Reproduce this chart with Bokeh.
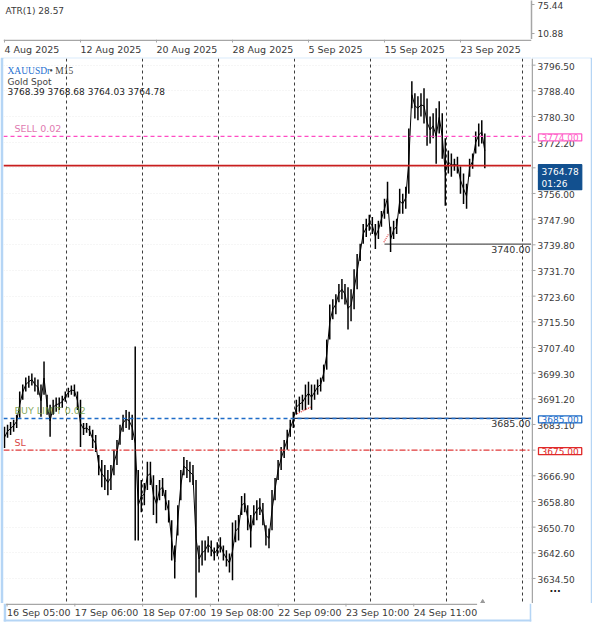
from bokeh.plotting import figure
from bokeh.models import (Range1d, LinearAxis, FixedTicker, PrintfTickFormatter, Label, Span,
                          Grid, ColumnDataSource)
from bokeh.layouts import column, row
from bokeh.embed import file_html
from bokeh.resources import INLINE
from bokeh.core.properties import value

# ---------------- data (hourly high / low) ----------------
high = [3682.4, 3683.0, 3683.9, 3684.6, 3686.2, 3693.5, 3695.7, 3697.9, 3698.5, 3699.2,
        3697.9, 3697.3, 3695.7, 3703.0, 3692.5, 3689.3, 3690.9, 3691.6, 3691.6, 3692.2,
        3693.5, 3694.7, 3695.4, 3695.7, 3693.5, 3690.9, 3683.6, 3683.6, 3682.7, 3681.4,
        3679.8, 3673.5, 3671.9, 3670.3, 3668.7, 3670.3, 3675.1, 3678.2, 3683.0, 3686.2,
        3687.7, 3687.1, 3686.2, 3707.7, 3668.7, 3665.6, 3664.6, 3671.3, 3671.3, 3667.1,
        3664.0, 3665.6, 3666.2, 3662.4, 3659.2, 3652.9, 3644.9, 3657.6, 3668.7, 3672.8,
        3671.9, 3671.3, 3670.3, 3665.6, 3644.9, 3646.5, 3646.5, 3647.8, 3646.5, 3644.3,
        3645.9, 3647.5, 3644.9, 3643.4, 3642.4, 3652.2, 3652.9, 3654.5, 3660.5, 3661.4,
        3657.6, 3654.5, 3657.6, 3659.2, 3659.8, 3658.3, 3651.3, 3650.3, 3662.4, 3666.2,
        3671.9, 3676.0, 3678.2, 3681.4, 3684.6, 3687.1, 3690.9, 3691.9, 3692.5, 3695.7,
        3696.6, 3695.7, 3695.7, 3697.3, 3697.9, 3702.0, 3709.9, 3721.0, 3722.6, 3724.2,
        3727.4, 3729.0, 3727.4, 3726.4, 3725.8, 3732.1, 3736.9, 3740.1, 3746.4, 3748.0,
        3749.3, 3748.6, 3746.4, 3747.4, 3750.5, 3754.3, 3759.7, 3745.5, 3747.4, 3748.0,
        3757.5, 3755.9, 3758.1, 3776.5, 3791.4, 3787.6, 3786.7, 3787.6, 3789.2, 3786.0,
        3780.3, 3781.3, 3782.9, 3785.1, 3781.3, 3773.4, 3769.6, 3768.6, 3767.0, 3767.6,
        3764.5, 3762.3, 3759.1, 3767.0, 3768.6, 3775.6, 3778.1, 3779.1, 3774.9]
low = [3675.7, 3678.9, 3679.8, 3680.8, 3682.0, 3685.2, 3690.9, 3693.5, 3694.7, 3695.4,
       3693.5, 3692.5, 3685.5, 3692.5, 3686.2, 3679.2, 3686.2, 3687.1, 3687.7, 3688.4,
       3690.3, 3691.6, 3692.5, 3691.9, 3687.7, 3676.0, 3679.8, 3680.5, 3679.5, 3675.7,
       3674.4, 3667.1, 3663.3, 3662.4, 3660.8, 3662.4, 3667.1, 3670.3, 3676.7, 3680.8,
       3682.0, 3681.4, 3678.2, 3646.5, 3646.5, 3655.4, 3657.6, 3662.4, 3664.0, 3654.5,
       3651.9, 3659.2, 3660.5, 3656.0, 3652.2, 3640.2, 3634.5, 3648.1, 3659.2, 3667.1,
       3666.2, 3664.9, 3664.0, 3628.5, 3636.4, 3638.6, 3640.2, 3642.7, 3641.5, 3640.2,
       3641.5, 3642.7, 3640.2, 3638.3, 3636.4, 3633.9, 3645.9, 3646.5, 3654.5, 3655.4,
       3649.7, 3644.3, 3651.3, 3652.9, 3654.5, 3651.3, 3644.9, 3644.0, 3649.7, 3659.2,
       3665.6, 3668.7, 3672.5, 3675.1, 3679.2, 3682.0, 3686.2, 3687.1, 3687.7, 3687.7,
       3689.3, 3687.7, 3690.9, 3692.5, 3693.5, 3696.6, 3700.4, 3709.9, 3716.3, 3717.9,
       3721.7, 3722.6, 3721.0, 3713.1, 3715.7, 3719.5, 3725.8, 3734.7, 3740.1, 3742.3,
       3744.2, 3743.2, 3738.5, 3741.6, 3745.5, 3748.0, 3749.6, 3737.5, 3741.6, 3743.2,
       3749.6, 3749.6, 3751.2, 3755.9, 3782.9, 3779.7, 3779.1, 3780.3, 3778.1, 3771.1,
       3771.8, 3773.4, 3765.4, 3774.9, 3767.0, 3752.1, 3762.3, 3761.3, 3763.2, 3762.3,
       3755.9, 3752.7, 3751.2, 3761.3, 3763.8, 3768.6, 3770.8, 3771.8, 3764.0]
hour = list(range(len(high)))

time_ticks = [0, 25, 50, 75, 100, 125, 150]
time_labels = ["16 Sep 05:00", "17 Sep 06:00", "18 Sep 07:00", "19 Sep 08:00",
               "22 Sep 09:00", "23 Sep 10:00", "24 Sep 11:00"]
atr_date_labels = ["4 Aug 2025", "12 Aug 2025", "20 Aug 2025", "28 Aug 2025",
                   "5 Sep 2025", "15 Sep 2025", "23 Sep 2025"]
price_ticks = [3796.50, 3788.40, 3780.30, 3772.20, 3764.10, 3756.00, 3747.90, 3739.80,
               3731.70, 3723.60, 3715.50, 3707.40, 3699.30, 3691.20, 3683.10, 3675.00,
               3666.90, 3658.80, 3650.70, 3642.60, 3634.50]
atr_ticks = [75.44, 10.88]
atr_value = 28.57
ohlc_last = [3768.39, 3768.68, 3764.03, 3764.78]
countdown = "01:26"
sell_price = 3774.00
bid_price = 3764.78
buy_limit_price = 3685.00
sl_price = 3675.00
level_a = 3740.00
level_a_from = 125
level_b = 3685.00
level_b_from = 95
trade_x0 = [96.3, 124.8]
trade_y0 = [3686.5, 3740.6]
trade_x1 = [100.7, 126.4]
trade_y1 = [3688.6, 3743.3]
grid_offset = 20.4
shift_marker_hour = 157.3

FONT = "DejaVu Sans"
TXT = "#3a3a3a"
AXC = "#a6a6a6"
WIN = "#b5d5f5"

x_range = Range1d(-0.33, 173.36)
CHART_W = 528                     # frame width of the chart, px
hpp = (x_range.end - x_range.start) / CHART_W   # hours per pixel

def base(**kw):
    f = figure(output_backend="svg", toolbar_location=None, x_axis_location=None,
               y_axis_location=None, outline_line_color=None, **kw)
    f.grid.visible = False
    return f

# ---------------- ATR sub-window ----------------
atr = base(width=592, height=39, x_range=x_range, y_range=Range1d(-2.71, 85.63),
           min_border_left=3, min_border_right=61, min_border_top=0, min_border_bottom=0)
atr_axis = LinearAxis(ticker=FixedTicker(ticks=atr_ticks), formatter=PrintfTickFormatter(format="%.2f"),
                      axis_line_color=AXC, axis_line_width=1.5, major_tick_out=3, major_tick_in=0,
                      major_tick_line_color=AXC, minor_tick_line_color=None, major_label_standoff=3,
                      major_label_text_font=FONT, major_label_text_font_size="9px",
                      major_label_text_color=TXT)
atr.add_layout(atr_axis, "right")
atr.add_layout(Label(x=2, y=29, x_units="screen", y_units="screen",
                     text=f"ATR(1) {atr_value:.2f}", text_align="left", text_baseline="middle",
                     text_font=FONT, text_font_size="9px", text_color=TXT))

# ---------------- date strip under the ATR window ----------------
dstrip = base(width=592, height=18, x_range=x_range, y_range=Range1d(18, 0),
              min_border_left=3, min_border_right=61, min_border_top=0, min_border_bottom=0)
dstrip.segment(x0=[x_range.start], y0=[0.75], x1=[x_range.end], y1=[0.75],
               line_color=AXC, line_width=1.5)
dstrip.segment(x0=time_ticks, y0=[0] * len(time_ticks), x1=time_ticks, y1=[3] * len(time_ticks),
               line_color=AXC, line_width=1)
dstrip.text(x=time_ticks, y=[10] * len(time_ticks), text=atr_date_labels, text_font=value(FONT),
            text_font_size="9.5px", text_color=TXT, text_align="left", text_baseline="middle")

# ---------------- main chart ----------------
y_range = Range1d(3626.6, 3798.6)
chart = base(width=531, height=546, x_range=x_range, y_range=y_range,
             min_border_left=3, min_border_right=0, min_border_top=1, min_border_bottom=0,
             border_fill_color=WIN)
chart.add_layout(Grid(dimension=1, ticker=FixedTicker(ticks=price_ticks), grid_line_color="#ededed",
                      grid_line_dash="1 2", grid_line_width=1))
for t in time_ticks:
    chart.add_layout(Span(location=t + grid_offset, dimension="height", line_color="#3c3c3c",
                          line_dash="3 3", line_width=1, level="underlay"))

chart.add_layout(Span(location=sell_price, dimension="width", line_color="#ff4dc4",
                      line_dash="4 3", line_width=1.2))
chart.add_layout(Span(location=buy_limit_price, dimension="width", line_color="#1e6cc8",
                      line_dash="4 3", line_width=1.4))
chart.add_layout(Span(location=sl_price, dimension="width", line_color="#e23b3b",
                      line_dash="6 2 2 2", line_width=1.2))
chart.segment(x0=[level_a_from], y0=[level_a], x1=[x_range.end], y1=[level_a],
              line_color="#555555", line_width=1.2)
chart.segment(x0=[level_b_from], y0=[level_b], x1=[x_range.end], y1=[level_b],
              line_color="#1c2f55", line_width=1.2)

src = ColumnDataSource(dict(hour=hour, high=high, low=low,
                            mid=[(h + l) / 2 for h, l in zip(high, low)]))
chart.segment(x0="hour", y0="low", x1="hour", y1="high", source=src,
              line_color="black", line_width=1.5)
chart.line(x="hour", y="mid", source=src, line_color="black", line_width=1.0)
chart.segment(x0=trade_x0, y0=trade_y0, x1=trade_x1, y1=trade_y1, line_color="#e03030",
              line_dash="1 1", line_width=1.2)

chart.add_layout(Span(location=bid_price, dimension="width", line_color="#c81e1e", line_width=1.8))

def ltext(txt, y, color, alpha=1.0):
    chart.text(x=[3.3], y=[y], text=[txt], text_font=value(FONT), text_font_size="9.5px",
               text_color=color, text_alpha=alpha, text_baseline="bottom", y_offset=-2)

ltext("SELL 0.02", sell_price, "#e07ab0")
ltext("BUY LIMIT 0.02", buy_limit_price, "#6f9a3c", 0.85)
ltext("SL", sl_price, "#d94848")
for lvl in (level_a, level_b):
    chart.text(x=[x_range.end], y=[lvl], text=[f"{lvl:.2f}"], text_font=value(FONT),
               text_font_size="9.5px", text_color="#333333", text_align="right",
               text_baseline="top", x_offset=-1, y_offset=2)

chart.add_layout(Label(x=4, y=533, x_units="screen", y_units="screen", text="XAUUSDr",
                       text_font="Liberation Serif", text_font_size="9.5px", text_color="#1e6fd0",
                       text_baseline="middle"))
chart.add_layout(Label(x=46, y=533, x_units="screen", y_units="screen", text="\u2022 M15",
                       text_font="Liberation Serif", text_font_size="9.5px", text_color="#444444",
                       text_baseline="middle"))
chart.add_layout(Label(x=4, y=522, x_units="screen", y_units="screen", text="Gold Spot",
                       text_font=FONT, text_font_size="9px", text_color="#444444",
                       text_baseline="middle"))
chart.add_layout(Label(x=4, y=512, x_units="screen", y_units="screen",
                       text=" ".join(f"{v:.2f}" for v in ohlc_last),
                       text_font=FONT, text_font_size="9px", text_color="#222222",
                       text_baseline="middle"))
chart.scatter(x=[shift_marker_hour], y=[y_range.start], marker="triangle", size=7,
              fill_color="#9a9a9a", line_color="#9a9a9a")

# ---------------- price scale column ----------------
pax = base(width=61, height=546, x_range=Range1d(0, 59), y_range=y_range,
           min_border_left=0, min_border_right=2, min_border_top=1, min_border_bottom=0,
           border_fill_color=WIN)
pax.add_layout(Span(location=0.75, dimension="height", line_color=AXC, line_width=1.5))
pax.segment(x0=[0] * len(price_ticks), y0=price_ticks, x1=[4] * len(price_ticks), y1=price_ticks,
            line_color=AXC, line_width=1)
pax.text(x=[6] * len(price_ticks), y=price_ticks, text=[f"{v:.2f}" for v in price_ticks],
         text_font=value(FONT), text_font_size="9px", text_color=TXT,
         text_align="left", text_baseline="middle", y_offset=1)

def tag(price, border, fill, tcolor, text=None, baseline="middle", yoff=1, pad=None):
    pax.text(x=[7], y=[price], text=[text or f"{price:.2f}"], text_font=value(FONT),
             text_font_size="9px", text_color=tcolor, text_align="left", text_baseline=baseline,
             y_offset=yoff, background_fill_color=fill, border_line_color=border,
             border_line_width=1.3, padding=pad or dict(left=3, right=3, top=0, bottom=0))

tag(sell_price, "#ff5fc8", "white", "#ff5fc8")
tag(buy_limit_price, "#1e6cc8", "white", "#1e6cc8")
tag(sl_price, "#e02828", "white", "#e02828")
tag(bid_price, "#12508f", "#12508f", "white", text=f"{bid_price:.2f}\n{countdown}",
    baseline="top", yoff=-1, pad=dict(left=3, right=3, top=2, bottom=1))
pax.text(x=[18], y=[price_ticks[-1]], text=["..."], text_font=value(FONT), text_font_size="10px",
         text_font_style="bold", text_color="#222222", text_baseline="middle", y_offset=10)

# ---------------- time strip under the chart (frame spans the full width) ----------------
ts_start = x_range.start - 3 * hpp
ts_end = x_range.start + 589 * hpp
tstrip = base(width=592, height=22, x_range=Range1d(ts_start, ts_end), y_range=Range1d(22, 0),
              min_border_left=0, min_border_right=0, min_border_top=0, min_border_bottom=0)
win_right = x_range.start + 587 * hpp
tstrip.quad(left=[ts_start, win_right, ts_start], right=[x_range.start, ts_end, ts_end],
            top=[0, 0, 16], bottom=[18, 18, 18], fill_color=WIN, line_color=None)
tstrip.segment(x0=[x_range.start], y0=[0.75], x1=[x_range.end], y1=[0.75],
               line_color=AXC, line_width=1.5)
tstrip.segment(x0=time_ticks, y0=[0] * len(time_ticks), x1=time_ticks, y1=[3] * len(time_ticks),
               line_color=AXC, line_width=1)
tstrip.text(x=time_ticks, y=[9] * len(time_ticks), text=time_labels, text_font=value(FONT),
            text_font_size="9.5px", text_color=TXT, text_align="left", text_baseline="middle")

layout = column(atr, dstrip, row(chart, pax, spacing=0), tstrip, spacing=0)
open("out.html", "w").write(file_html(layout, INLINE))
